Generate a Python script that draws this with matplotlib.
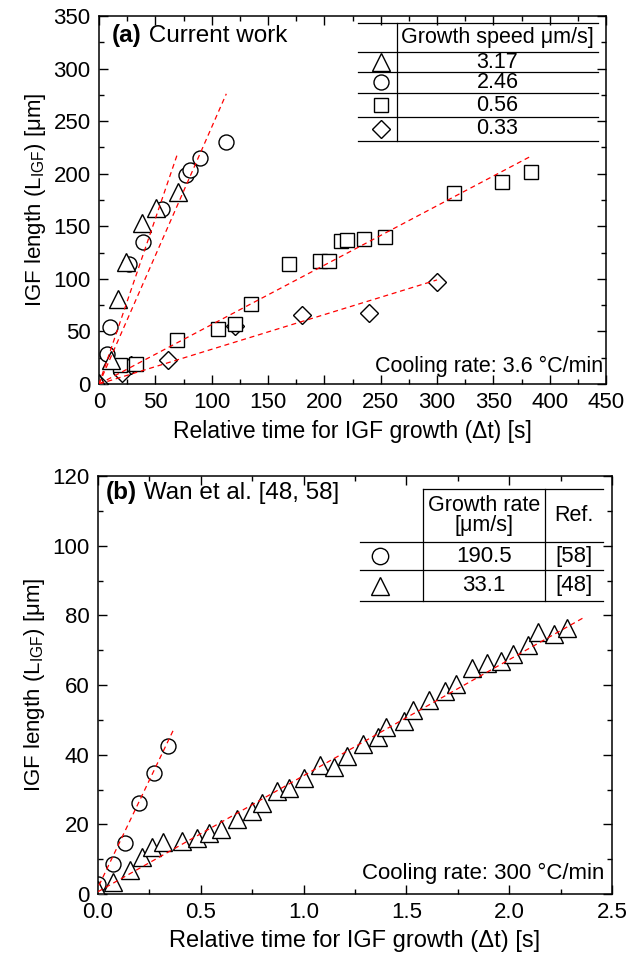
import matplotlib
matplotlib.use("Agg")
import matplotlib.pyplot as plt
from matplotlib.ticker import MultipleLocator

plt.rcParams['font.family'] = ['Liberation Sans', 'DejaVu Sans']
plt.rcParams['mathtext.fontset'] = 'custom'
plt.rcParams['mathtext.rm'] = 'Liberation Sans'
plt.rcParams['mathtext.it'] = 'Liberation Sans:italic'
plt.rcParams['mathtext.bf'] = 'Liberation Sans:bold'

# ==== (a) current work ====
tri_a_x = [0, 11, 17, 24, 38, 51, 70]
tri_a_y = [1, 23, 81, 116, 153, 167, 183]
cir_a_x = [7, 10, 27, 39, 56, 77, 81, 90, 113]
cir_a_y = [29, 54, 114, 135, 166, 199, 204, 215, 230]
sq_a_x = [19, 33, 69, 106, 121, 135, 169, 196, 204, 215, 220, 235, 254, 315, 358, 383]
sq_a_y = [18, 19, 42, 52, 57, 76, 114, 117, 117, 136, 137, 138, 140, 182, 192, 202]
dia_a_x = [0, 20, 28, 61, 121, 180, 240, 300]
dia_a_y = [0, 10, 18, 23, 55, 66, 68, 97]

# fitted lines (end points): triangle, circle, square, diamond
fit_a_x = [[0, 70], [0, 113], [0, 384], [0, 300]]
fit_a_y = [[0, 220], [0, 276], [0, 217], [0, 99]]

speeds_a = ['3.17', '2.46', '0.56', '0.33']

# ==== (b) Wan et al. ====
cir_b_x = [0.0, 0.075, 0.131, 0.199, 0.274, 0.342]
cir_b_y = [3, 8.5, 14.6, 26, 34.7, 42.5]
tri_b_x = [0.0, 0.075, 0.156, 0.212, 0.261, 0.318, 0.407, 0.48, 0.54, 0.60,
           0.675, 0.748, 0.80, 0.87, 0.93, 1.00, 1.08, 1.15, 1.21, 1.29,
           1.36, 1.40, 1.49, 1.53, 1.61, 1.69, 1.74, 1.82, 1.89, 1.96,
           2.02, 2.09, 2.14, 2.22, 2.28]
tri_b_y = [1.1, 3.5, 6.9, 10.7, 13.6, 14.8, 15.3, 16, 17.6, 18.6,
           21.5, 23.7, 26, 29.5, 30.5, 33.2, 36.9, 36.6, 39.7, 43.1,
           45, 47.8, 49.7, 52.7, 55.7, 58.3, 60.3, 64.9, 66.3, 67,
           69, 71.4, 75.1, 74.6, 76.3]
fit_b_x = [[0.005, 0.366], [0, 2.37]]
fit_b_y = [[2.5, 47], [0.66, 79.6]]

rates_b = ['190.5', '33.1']
refs_b = ['[58]', '[48]']

mk = dict(mfc='white', mec='black', mew=1.0, ls='none')
sizes = {'^': 12.5, 'o': 10.8, 's': 9.4, 'D': 9.0}
fit_style = dict(color='red', lw=0.9, ls=(0, (4, 3)))

fig = plt.figure(figsize=(6.28, 9.59), dpi=100)
ax1 = fig.add_axes([99/628, 1-384/959, 507/628, 368/959])
ax2 = fig.add_axes([98/628, 1-894/959, 514/628, 418/959])


def panel_title(ax, x, y, tag, rest):
    t = ax.text(x, y, tag, transform=ax.transAxes, fontsize=17.5,
                fontweight='bold', va='bottom', ha='left')
    ax.annotate(rest, xy=(1, 0), xycoords=t, fontsize=17.5, va='bottom', ha='left')


# ---- panel a ----
for fx, fy in zip(fit_a_x, fit_a_y):
    ax1.plot(fx, fy, **fit_style, zorder=3)
ax1.plot(dia_a_x, dia_a_y, marker='D', ms=sizes['D'], **mk, zorder=2)
ax1.plot(sq_a_x, sq_a_y, marker='s', ms=sizes['s'], **mk, zorder=2)
ax1.plot(cir_a_x, cir_a_y, marker='o', ms=sizes['o'], **mk, zorder=2)
ax1.plot(tri_a_x, tri_a_y, marker='^', ms=sizes['^'], **mk, zorder=2)
ax1.set_xlim(0, 450)
ax1.set_ylim(0, 350)
ax1.xaxis.set_major_locator(MultipleLocator(50))
ax1.xaxis.set_minor_locator(MultipleLocator(25))
ax1.yaxis.set_major_locator(MultipleLocator(50))
ax1.yaxis.set_minor_locator(MultipleLocator(25))

panel_title(ax1, 0.026, 0.915, '(a)', ' Current work')
ax1.text(0.994, 0.047, 'Cooling rate: 3.6 °C/min', transform=ax1.transAxes,
         fontsize=15.5, va='center', ha='right')

# table a
tl, tr, td = 0.511, 0.984, 0.588
rows_a = [0.980, 0.901, 0.849, 0.790, 0.725, 0.661]
for r in rows_a:
    ax1.plot([tl, tr], [r, r], color='black', lw=0.9, transform=ax1.transAxes)
ax1.plot([td, td], [rows_a[0], rows_a[-1]], color='black', lw=0.9, transform=ax1.transAxes)
ax1.text((td + tr) / 2, (rows_a[0] + rows_a[1]) / 2, 'Growth speed μm/s]',
         transform=ax1.transAxes, fontsize=15.5, ha='center', va='center')
for i, (m, s) in enumerate(zip(['^', 'o', 's', 'D'], speeds_a)):
    yc = (rows_a[i + 1] + rows_a[i + 2]) / 2
    ax1.plot([0.556], [yc], marker=m, ms=sizes[m], transform=ax1.transAxes, **mk)
    ax1.text((td + tr) / 2, yc, s, transform=ax1.transAxes, fontsize=15.5,
             ha='center', va='center')

# ---- panel b ----
for fx, fy in zip(fit_b_x, fit_b_y):
    ax2.plot(fx, fy, **fit_style, zorder=3)
ax2.plot(cir_b_x, cir_b_y, marker='o', ms=sizes['o'], **mk, zorder=2)
ax2.plot(tri_b_x, tri_b_y, marker='^', ms=sizes['^'], **mk, zorder=2)
ax2.set_xlim(0, 2.5)
ax2.set_ylim(0, 120)
ax2.xaxis.set_major_locator(MultipleLocator(0.5))
ax2.xaxis.set_minor_locator(MultipleLocator(0.25))
ax2.yaxis.set_major_locator(MultipleLocator(20))
ax2.yaxis.set_minor_locator(MultipleLocator(10))
ax2.xaxis.set_major_formatter(lambda v, p: f'{v:.1f}')

panel_title(ax2, 0.016, 0.933, '(b)', ' Wan et al. [48, 58]')
ax2.text(0.986, 0.05, 'Cooling rate: 300 °C/min', transform=ax2.transAxes,
         fontsize=16, va='center', ha='right')

# table b
bl, bd1, bd2, br = 0.51, 0.632, 0.870, 0.982
rows_b = [0.969, 0.842, 0.775, 0.701]
ax2.plot([bd1, br], [rows_b[0], rows_b[0]], color='black', lw=0.9, transform=ax2.transAxes)
for r in rows_b[1:]:
    ax2.plot([bl, br], [r, r], color='black', lw=0.9, transform=ax2.transAxes)
for d in (bd1, bd2):
    ax2.plot([d, d], [rows_b[0], rows_b[-1]], color='black', lw=0.9, transform=ax2.transAxes)
ax2.text((bd1 + bd2) / 2, (rows_b[0] + rows_b[1]) / 2, 'Growth rate\n[μm/s]',
         transform=ax2.transAxes, fontsize=15.5, ha='center', va='center', linespacing=0.95)
ax2.text((bd2 + br) / 2, (rows_b[0] + rows_b[1]) / 2, 'Ref.',
         transform=ax2.transAxes, fontsize=15.5, ha='center', va='center')
for i, (m, rt, rf) in enumerate(zip(['o', '^'], rates_b, refs_b)):
    yc = (rows_b[i + 1] + rows_b[i + 2]) / 2
    ax2.plot([0.549], [yc], marker=m, ms=sizes[m] + 1, transform=ax2.transAxes, **mk)
    ax2.text((bd1 + bd2) / 2, yc, rt, transform=ax2.transAxes, fontsize=16,
             ha='center', va='center')
    ax2.text((bd2 + br) / 2, yc, rf, transform=ax2.transAxes, fontsize=16,
             ha='center', va='center')

for ax, xfs in ((ax1, 16.5), (ax2, 17)):
    ax.tick_params(which='both', direction='in', top=True, right=True,
                   labelsize=16, width=1.0, pad=6)
    ax.tick_params(which='major', length=6.5)
    ax.tick_params(which='minor', length=3.5)
    for sp in ax.spines.values():
        sp.set_linewidth(1.1)
    ax.set_xlabel('Relative time for IGF growth (Δt) [s]', fontsize=xfs, labelpad=5)
    ax.set_ylabel(r'IGF length (L$_{\mathrm{IGF}}$) [μm]', fontsize=16, labelpad=4)

fig.savefig('out.png', dpi=100)
